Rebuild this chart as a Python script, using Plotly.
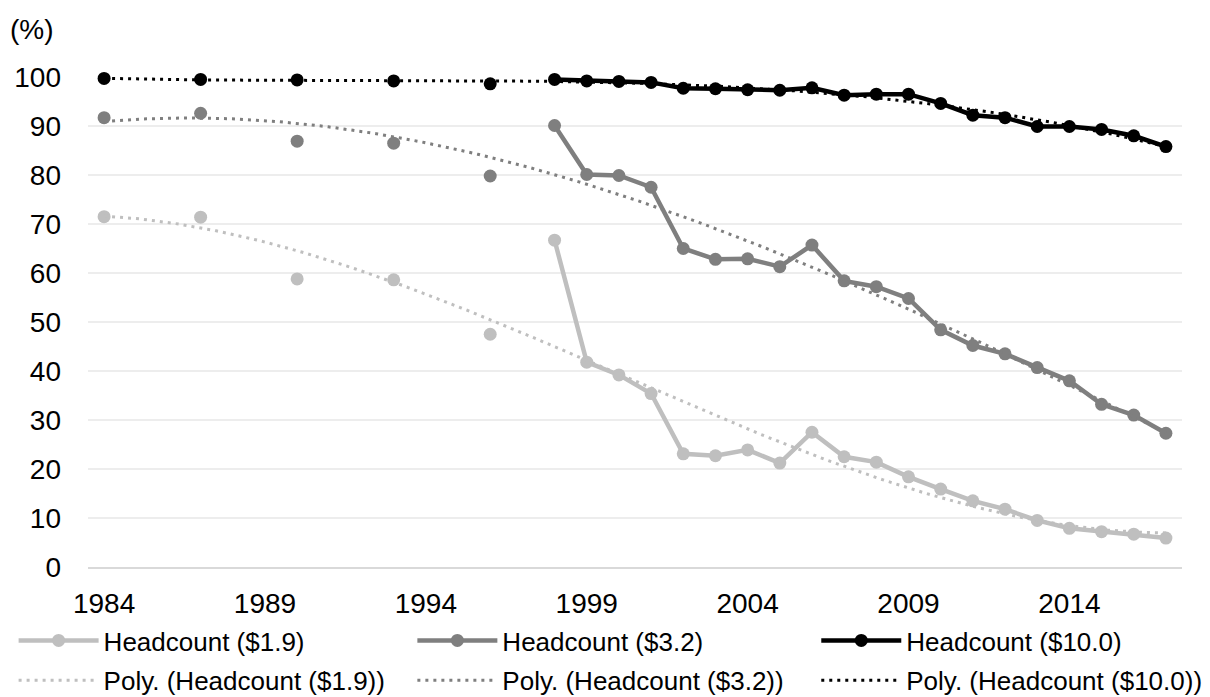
import numpy as np
import plotly.graph_objects as go

years = [1984, 1987, 1990, 1993, 1996, 1998, 1999, 2000, 2001, 2002, 2003, 2004, 2005,
         2006, 2007, 2008, 2009, 2010, 2011, 2012, 2013, 2014, 2015, 2016, 2017]

hc_19 = [71.5, 71.4, 58.8, 58.6, 47.5, 66.7, 41.8, 39.2, 35.4, 23.1, 22.7, 23.9, 21.2,
         27.5, 22.5, 21.4, 18.4, 15.9, 13.5, 11.8, 9.5, 7.9, 7.2, 6.7, 5.9]
hc_32 = [91.7, 92.6, 86.9, 86.5, 79.8, 90.1, 80.1, 79.9, 77.5, 65.0, 62.8, 62.9, 61.3,
         65.7, 58.4, 57.2, 54.8, 48.4, 45.2, 43.5, 40.7, 38.0, 33.2, 31.0, 27.3]
hc_100 = [99.7, 99.5, 99.4, 99.2, 98.6, 99.5, 99.2, 99.1, 98.9, 97.7, 97.6, 97.4, 97.3,
          97.8, 96.3, 96.5, 96.5, 94.6, 92.2, 91.7, 89.9, 89.9, 89.3, 88.0, 85.8]

series_names = ["Headcount ($1.9)", "Headcount ($3.2)", "Headcount ($10.0)"]
series_colors = ["#BFBFBF", "#7F7F7F", "#000000"]
x_ticks = [1984, 1989, 1994, 1999, 2004, 2009, 2014]
y_ticks = [0, 10, 20, 30, 40, 50, 60, 70, 80, 90, 100]

FONT = "Arial, 'Liberation Sans', sans-serif"
legend_ids = ["legend", "legend2", "legend3"]


def split_segments(xs, ys):
    # Insert gaps where years are not consecutive (Excel leaves blanks unconnected)
    out_x, out_y = [], []
    for i, (x, y) in enumerate(zip(xs, ys)):
        if i > 0 and x - xs[i - 1] > 1:
            out_x.append(None)
            out_y.append(None)
        out_x.append(x)
        out_y.append(y)
    return out_x, out_y


fig = go.Figure()
all_series = [hc_19, hc_32, hc_100]

for name, vals, col, lg in zip(series_names, all_series, series_colors, legend_ids):
    sx, sy = split_segments(years, vals)
    fig.add_trace(go.Scatter(
        x=sx, y=sy, name=name, mode="lines+markers",
        line=dict(color=col, width=4.5),
        marker=dict(color=col, size=13),
        connectgaps=False, cliponaxis=False,
        legend=lg, legendgroup=name + "_a",
    ))

# Polynomial trendlines (order 3), as in the spreadsheet chart
xt = np.linspace(years[0], years[-1], 200)
yc = np.array(years, dtype=float)
for name, vals, col, lg in zip(series_names, all_series, series_colors, legend_ids):
    coef = np.polyfit(yc - 2000, np.array(vals), 3)
    yt = np.polyval(coef, xt - 2000)
    fig.add_trace(go.Scatter(
        x=xt, y=yt, name=f"Poly. ({name})", mode="lines",
        line=dict(color=col, width=3, dash="3px,5px"),
        cliponaxis=False,
        legend=lg, legendgroup=name + "_b",
    ))


def legend_cfg(xpos):
    return dict(
        orientation="v", x=xpos, xanchor="left", y=-0.102, yanchor="top",
        itemwidth=80, tracegroupgap=3, traceorder="grouped",
        font=dict(family=FONT, size=26, color="#000000"),
        bgcolor="rgba(0,0,0,0)",
    )


fig.update_layout(
    width=1202, height=689,
    margin=dict(l=80, r=28, t=69, b=130, autoexpand=False),
    paper_bgcolor="white", plot_bgcolor="white",
    font=dict(family=FONT, color="#000000", size=26),
    showlegend=True,
    legend=legend_cfg(-0.068),
    legend2=legend_cfg(0.2965),
    legend3=legend_cfg(0.6657),
    xaxis=dict(
        range=[1983.5, 2017.5], tickvals=x_ticks, ticktext=[str(v) for v in x_ticks],
        showgrid=False, zeroline=False, showline=True, linecolor="#D9D9D9", linewidth=2,
        ticks="", tickfont=dict(family=FONT, size=28, color="#000000"),
        ticklabelstandoff=10,
    ),
    yaxis=dict(
        range=[0, 100], tickvals=y_ticks, showgrid=True, gridcolor="#EDEDED", gridwidth=2,
        zeroline=False, showline=False, ticks="",
        tickfont=dict(family=FONT, size=28, color="#000000"),
        ticklabelstandoff=26,
    ),
    annotations=[dict(
        text="(%)", xref="paper", yref="paper", x=-0.073, y=1.0, xanchor="left",
        yanchor="bottom", yshift=30, showarrow=False,
        font=dict(family=FONT, size=28, color="#000000"),
    )],
)

fig.write_html("out.html")
